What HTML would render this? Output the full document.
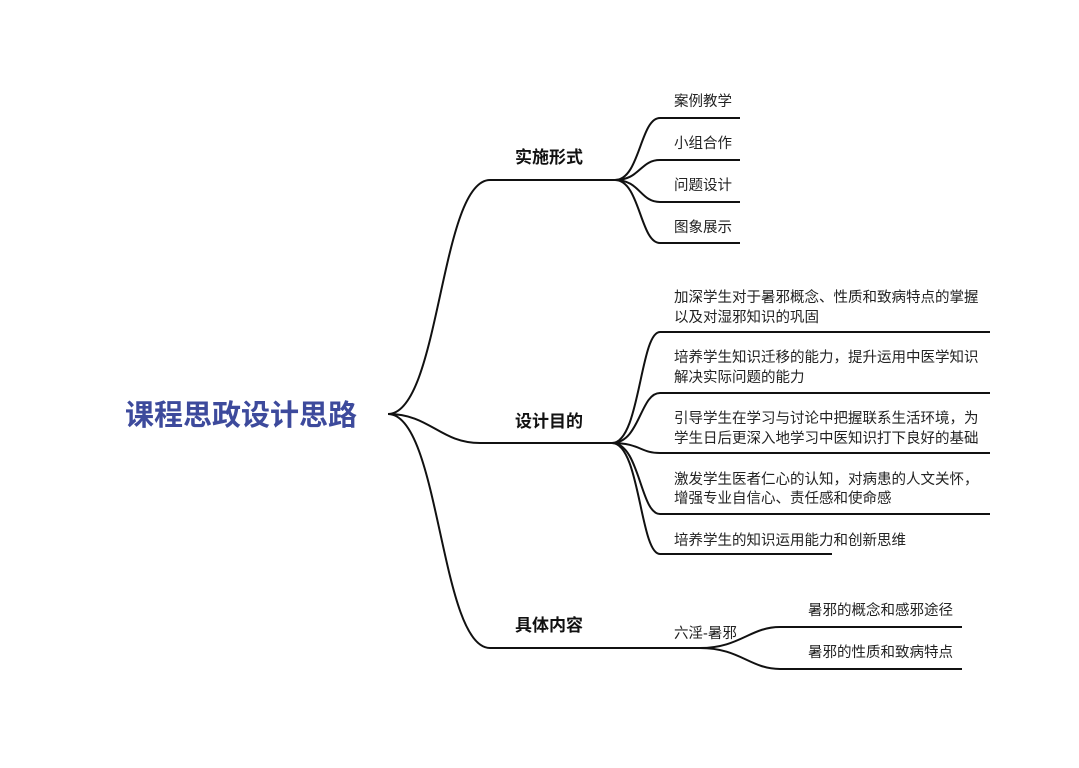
<!DOCTYPE html>
<html><head><meta charset="utf-8"><style>
html,body{margin:0;padding:0;background:#fff;}
svg text{font-family:"Liberation Sans","Noto Sans CJK SC",sans-serif;}
</style></head><body>
<svg width="1079" height="763" viewBox="0 0 1079 763" xmlns="http://www.w3.org/2000/svg">
<g fill="none" stroke="#111" stroke-width="2">
<!-- root to branches -->
<path d="M388,414 C440,414 440,180 490,180 L615,180"/>
<path d="M388,414 C430,414 440,443 480,443 L612,443"/>
<path d="M388,414 C440,414 440,648 490,648 L700,648"/>
<!-- branch1 children -->
<path d="M615,180 C640,180 640,118 660,118 L740,118"/>
<path d="M615,180 C640,180 640,160 660,160 L740,160"/>
<path d="M615,180 C640,180 640,202 660,202 L740,202"/>
<path d="M615,180 C640,180 640,243 660,243 L740,243"/>
<!-- branch2 children -->
<path d="M612,443 C640,443 640,332 660,332 L990,332"/>
<path d="M612,443 C640,443 640,393 660,393 L990,393"/>
<path d="M612,443 C640,443 640,453 660,453 L990,453"/>
<path d="M612,443 C640,443 640,514 660,514 L990,514"/>
<path d="M612,443 C640,443 640,554 660,554 L832,554"/>
<!-- branch3 children -->
<path d="M700,648 C740,648 750,627 780,627 L962,627"/>
<path d="M700,648 C740,648 750,669 780,669 L962,669"/>
</g>
<text x="125" y="425" font-size="29" font-weight="bold" fill="#3d4a9c">课程思政设计思路</text>
<g font-size="17" font-weight="bold" fill="#111">
<text x="515" y="163">实施形式</text>
<text x="515" y="427">设计目的</text>
<text x="515" y="631">具体内容</text>
</g>
<g font-size="14.5" fill="#222">
<text x="674" y="106">案例教学</text>
<text x="674" y="148">小组合作</text>
<text x="674" y="190">问题设计</text>
<text x="674" y="232">图象展示</text>
<text x="674" y="302">加深学生对于暑邪概念、性质和致病特点的掌握</text>
<text x="674" y="322">以及对湿邪知识的巩固</text>
<text x="674" y="362">培养学生知识迁移的能力，提升运用中医学知识</text>
<text x="674" y="382">解决实际问题的能力</text>
<text x="674" y="423">引导学生在学习与讨论中把握联系生活环境，为</text>
<text x="674" y="443">学生日后更深入地学习中医知识打下良好的基础</text>
<text x="674" y="484">激发学生医者仁心的认知，对病患的人文关怀，</text>
<text x="674" y="503">增强专业自信心、责任感和使命感</text>
<text x="674" y="545">培养学生的知识运用能力和创新思维</text>
<text x="674" y="638">六淫-暑邪</text>
<text x="808" y="615">暑邪的概念和感邪途径</text>
<text x="808" y="657">暑邪的性质和致病特点</text>
</g>
</svg>
</body></html>
